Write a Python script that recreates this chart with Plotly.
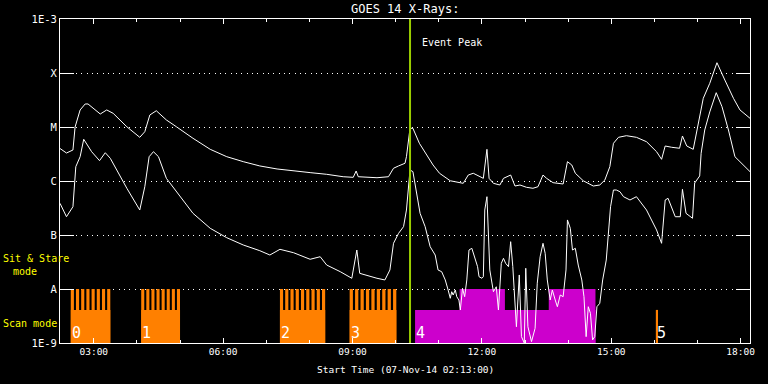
import pandas as pd
import plotly.graph_objects as go

DAY = "2014-11-07"

# ---- GOES 14 long channel (1-8 A), W/m^2 ----
long_times = ["02:13", "02:22", "02:31", "02:34", "02:41", "02:48", "02:52", "03:09", "03:18", "03:27",
              "03:46", "04:04", "04:11", "04:18", "04:27", "04:41", "04:55", "05:18", "05:42", "06:05",
              "06:28", "06:51", "07:15", "07:38", "08:01", "08:24", "08:47", "09:01", "09:05", "09:08",
              "09:34", "09:50", "09:57", "10:04", "10:13", "10:15", "10:20", "10:24", "10:33", "10:52",
              "11:01", "11:16", "11:34", "11:41", "11:48", "12:02", "12:07", "12:10", "12:16", "12:25",
              "12:30", "12:40", "12:46", "12:53", "13:02", "13:11", "13:18", "13:25", "13:30", "13:39",
              "13:53", "13:59", "14:05", "14:10", "14:21", "14:35", "14:44", "14:51", "14:58", "15:03",
              "15:10", "15:21", "15:35", "15:49", "16:03", "16:10", "16:15", "16:24", "16:35", "16:39",
              "16:45", "16:54", "16:59", "17:08", "17:17", "17:27", "17:38", "17:50", "17:59", "18:13"]
long_flux = [4.0e-6, 3.3e-6, 3.75e-6, 1.0e-5, 2.07e-5, 2.67e-5, 2.67e-5, 1.74e-5, 2.07e-5, 1.79e-5,
             1.01e-5, 6.44e-6, 8.18e-6, 1.67e-5, 2.0e-5, 1.35e-5, 1.01e-5, 6.18e-6, 3.86e-6, 2.82e-6,
             2.28e-6, 1.90e-6, 1.67e-6, 1.53e-6, 1.43e-6, 1.33e-6, 1.20e-6, 1.17e-6, 1.53e-6, 1.20e-6,
             1.15e-6, 1.20e-6, 1.72e-6, 1.90e-6, 2.13e-6, 2.82e-6, 9.46e-6, 9.46e-6, 4.99e-6, 1.98e-6,
             1.39e-6, 1.01e-6, 9.06e-7, 1.29e-6, 1.39e-6, 1.12e-6, 3.86e-6, 1.12e-6, 9.06e-7, 8.43e-7,
             1.12e-6, 1.29e-6, 8.08e-7, 8.43e-7, 7.64e-7, 7.33e-7, 7.84e-7, 1.29e-6, 1.12e-6, 9.31e-7,
             8.80e-7, 2.28e-6, 1.98e-6, 1.39e-6, 1.01e-6, 8.08e-7, 8.43e-7, 1.04e-6, 1.84e-6, 4.99e-6,
             6.44e-6, 6.90e-6, 6.44e-6, 5.34e-6, 3.49e-6, 2.52e-6, 4.45e-6, 4.21e-6, 4.04e-6, 6.81e-6,
             4.45e-6, 3.86e-6, 8.18e-6, 3.40e-5, 6.44e-5, 1.55e-4, 7.41e-5, 3.40e-5, 2.07e-5, 1.45e-5]

# ---- GOES 14 short channel (0.5-4 A), W/m^2 ----
short_times = ["02:13", "02:22", "02:31", "02:35", "02:41", "02:46", "02:57", "03:08", "03:16", "03:23",
               "03:46", "04:04", "04:11", "04:17", "04:23", "04:30", "04:41", "04:55", "05:18", "05:42",
               "06:05", "06:28", "06:51", "07:05", "07:19", "07:38", "08:01", "08:15", "08:24", "08:43",
               "08:59", "09:06", "09:10", "09:34", "09:45", "09:52", "09:57", "10:04", "10:11", "10:15",
               "10:20", "10:24", "10:34", "10:41", "10:48", "10:55", "10:59", "11:04", "11:09", "11:13",
               "11:16", "11:18", "11:20", "11:23", "11:25", "11:28", "11:30", "11:33", "11:36", "11:39",
               "11:42", "11:46", "11:50", "11:54", "11:56", "12:00", "12:02", "12:04", "12:07", "12:09",
               "12:11", "12:16", "12:20", "12:23", "12:25", "12:27", "12:30", "12:33", "12:37", "12:40",
               "12:43", "12:46", "12:48", "12:52", "12:55", "12:59", "13:01", "13:04", "13:09", "13:14",
               "13:17", "13:21", "13:25", "13:28", "13:31", "13:35", "13:38", "13:42", "13:45", "13:49",
               "13:53", "13:57", "13:59", "14:03", "14:06", "14:10", "14:14", "14:19", "14:22", "14:25",
               "14:28", "14:31", "14:34", "14:37", "14:40", "14:44", "14:48", "14:53", "14:56", "14:59",
               "15:03", "15:07", "15:12", "15:17", "15:26", "15:35", "15:49", "16:03", "16:10", "16:15",
               "16:19", "16:29", "16:36", "16:39", "16:44", "16:53", "16:56", "17:03", "17:05", "17:10",
               "17:17", "17:26", "17:34", "17:43", "17:52", "18:13"]
short_flux = [3.86e-7, 2.18e-7, 3.34e-7, 1.84e-6, 2.82e-6, 5.92e-6, 3.49e-6, 2.38e-6, 3.34e-6, 2.63e-6,
              7.33e-7, 2.90e-7, 7.84e-7, 2.82e-6, 3.49e-6, 2.82e-6, 1.12e-6, 6.34e-7, 2.52e-7, 1.33e-7,
              8.91e-8, 6.53e-8, 5.12e-8, 4.26e-8, 5.43e-8, 4.70e-8, 3.55e-8, 3.96e-8, 2.78e-8, 2.09e-8,
              1.58e-8, 5.27e-8, 1.95e-8, 1.58e-8, 1.47e-8, 2.25e-8, 7.02e-8, 1.07e-7, 1.43e-7, 2.90e-7,
              1.60e-6, 1.49e-6, 2.52e-7, 1.43e-7, 6.07e-8, 4.26e-8, 2.25e-8, 2.09e-8, 1.47e-8, 9.58e-9,
              6.73e-9, 8.91e-9, 7.74e-9, 9.58e-9, 7.20e-9, 6.25e-9, 4.08e-9, 1.03e-8, 7.20e-9, 1.47e-8,
              5.27e-8, 5.67e-8, 3.96e-8, 2.59e-8, 1.69e-8, 1.58e-8, 1.69e-8, 2.90e-7, 5.12e-7, 1.07e-7,
              2.25e-8, 8.91e-9, 1.10e-8, 4.08e-9, 9.58e-9, 2.99e-8, 3.70e-8, 2.99e-8, 2.59e-8, 7.52e-8,
              2.59e-8, 7.20e-9, 2.0e-9, 1.82e-8, 1.31e-9, 1.0e-9, 2.42e-8, 2.0e-9, 1.06e-9, 1.87e-9,
              1.28e-8, 3.96e-8, 7.02e-8, 4.58e-8, 1.47e-8, 6.25e-9, 9.58e-9, 6.25e-9, 4.70e-9, 7.74e-9,
              7.20e-9, 2.25e-8, 1.90e-7, 1.33e-7, 5.27e-8, 5.67e-8, 2.78e-8, 1.47e-8, 7.20e-9, 1.31e-9,
              4.70e-9, 3.55e-9, 1.14e-9, 1.31e-9, 4.70e-9, 5.43e-9, 1.47e-8, 3.44e-8, 1.07e-7, 3.34e-7,
              6.81e-7, 6.81e-7, 6.34e-7, 5.12e-7, 4.45e-7, 5.12e-7, 2.90e-7, 1.24e-7, 7.02e-8, 4.45e-7,
              4.78e-7, 2.18e-7, 2.18e-7, 7.02e-7, 2.52e-7, 2.04e-7, 9.18e-7, 1.24e-6, 3.26e-6, 8.80e-6,
              1.90e-5, 4.32e-5, 2.38e-5, 8.80e-6, 2.82e-6, 1.49e-6]

# ---- IRIS observing blocks ----
stare_start = ["02:28", "04:06", "07:19", "08:56"]      # orange comb groups
stare_end = ["03:23", "05:00", "08:22", "10:01"]
stare_teeth = [8, 8, 9, 9]
stare_labels = ["0", "1", "2", "3"]

raster_low_start = ["10:27"]                           # magenta blocks
raster_low_end = ["14:38"]
raster_high_start = ["11:29", "13:33"]
raster_high_end = ["12:32", "14:38"]
raster_label = "4"

short_obs_start = ["16:02"]                             # obs 5
short_obs_end = ["16:05"]
short_obs_label = "5"

event_peak = "10:20"

FLOOR = 1e-9
LOW_TOP = 4.1e-9
HIGH_TOP = 1e-8

y_tickvals = [1e-9, 1e-8, 1e-7, 1e-6, 1e-5, 1e-4, 1e-3]
y_ticktext = ["1E-9", "A", "B", "C", "M", "X", "1E-3"]

ORANGE = "#ff8000"
MAGENTA = "#cc00cc"
PEAK = "#9acd00"
YELLOW = "#ffff00"
FONT = "DejaVu Sans Mono"


def ts(hhmm):
    return pd.Timestamp(f"{DAY} {hhmm}")


def blocks(starts, ends, top):
    xs, ys = [], []
    for a, b in zip(starts, ends):
        xs += [ts(a), ts(a), ts(b), ts(b), ts(a), None]
        ys += [FLOOR, top, top, FLOOR, FLOOR, None]
    return xs, ys


def comb(starts, ends, counts, top, frac=0.6):
    xs, ys = [], []
    for a, b, n in zip(starts, ends, counts):
        t0, t1 = ts(a), ts(b)
        p = (t1 - t0) / (n - 1 + frac)
        for i in range(n):
            s = t0 + p * i
            e = s + p * frac
            xs += [s, s, e, e, s, None]
            ys += [FLOOR, top, top, FLOOR, FLOOR, None]
    return xs, ys


def fill_trace(xs, ys, color):
    return go.Scatter(x=xs, y=ys, mode="lines", fill="toself", fillcolor=color,
                      line=dict(width=0, color=color), hoverinfo="skip", showlegend=False)


fig = go.Figure()

bx, by = blocks(stare_start, stare_end, LOW_TOP)
fig.add_trace(fill_trace(bx, by, ORANGE))
cx, cy = comb(stare_start, stare_end, stare_teeth, HIGH_TOP)
fig.add_trace(fill_trace(cx, cy, ORANGE))
sx, sy = blocks(short_obs_start, short_obs_end, LOW_TOP)
fig.add_trace(fill_trace(sx, sy, ORANGE))
mx, my = blocks(raster_low_start, raster_low_end, LOW_TOP)
fig.add_trace(fill_trace(mx, my, MAGENTA))
hx, hy = blocks(raster_high_start, raster_high_end, HIGH_TOP)
fig.add_trace(fill_trace(hx, hy, MAGENTA))

fig.add_trace(go.Scatter(x=[ts(t) for t in long_times], y=long_flux, mode="lines",
                         line=dict(color="white", width=1), showlegend=False))
fig.add_trace(go.Scatter(x=[ts(t) for t in short_times], y=short_flux, mode="lines",
                         line=dict(color="white", width=1), showlegend=False))
fig.add_trace(go.Scatter(x=[ts(event_peak), ts(event_peak)], y=[1e-9, 1e-3], mode="lines",
                         line=dict(color=PEAK, width=2), showlegend=False))

annotations = []
for a, lab in zip(stare_start + raster_low_start + short_obs_start,
                  stare_labels + [raster_label, short_obs_label]):
    annotations.append(dict(x=ts(a), y=-8.82, xref="x", yref="y", text=lab, showarrow=False,
                            xanchor="left", yanchor="middle", xshift=-1,
                            font=dict(family=FONT, size=15, color="white")))
annotations.append(dict(x=ts(event_peak), y=-3.444, xref="x", yref="y", text="Event Peak",
                        showarrow=False, xanchor="left", yanchor="middle", xshift=10,
                        font=dict(family=FONT, size=10, color="white")))
annotations.append(dict(x=0.5, y=1, xref="paper", yref="paper", text="GOES 14 X-Rays:",
                        showarrow=False, xanchor="center", yanchor="middle", yshift=10,
                        font=dict(family=FONT, size=12, color="white")))
annotations.append(dict(x=0.5, y=0, xref="paper", yref="paper",
                        text="Start Time (07-Nov-14 02:13:00)",
                        showarrow=False, xanchor="center", yanchor="middle", yshift=-26,
                        font=dict(family=FONT, size=9.5, color="white")))
annotations.append(dict(x=-0.086, y=0.2593, xref="paper", yref="paper", text="Sit & Stare",
                        showarrow=False, xanchor="left", yanchor="middle",
                        font=dict(family=FONT, size=10, color=YELLOW)))
annotations.append(dict(x=-0.0705, y=0.2222, xref="paper", yref="paper", text="mode",
                        showarrow=False, xanchor="left", yanchor="middle",
                        font=dict(family=FONT, size=10, color=YELLOW)))
annotations.append(dict(x=-0.086, y=0.0596, xref="paper", yref="paper", text="Scan mode",
                        showarrow=False, xanchor="left", yanchor="middle",
                        font=dict(family=FONT, size=10, color=YELLOW)))

fig.update_layout(
    template="none",
    width=768, height=384,
    margin=dict(l=60, r=18, t=19, b=41, pad=0),
    paper_bgcolor="black", plot_bgcolor="black",
    showlegend=False,
    annotations=annotations,
    xaxis=dict(
        type="date", range=[ts("02:13"), ts("18:13")],
        tickmode="linear", tick0=f"{DAY} 00:00", dtick=3 * 3600 * 1000, tickformat="%H:%M",
        ticks="inside", ticklen=5, tickcolor="white", tickwidth=1,
        minor=dict(dtick=3600 * 1000, tick0=f"{DAY} 00:00", ticks="inside", ticklen=3,
                   tickcolor="white", tickwidth=1, showgrid=False),
        showline=True, linecolor="white", linewidth=1, mirror="ticks",
        showgrid=False, zeroline=False, automargin=False,
        tickfont=dict(family=FONT, size=9.5, color="white"),
    ),
    yaxis=dict(
        type="log", range=[-9, -3],
        tickmode="array", tickvals=y_tickvals, ticktext=y_ticktext,
        ticks="inside", ticklen=14, tickcolor="white", tickwidth=1,
        showline=True, linecolor="white", linewidth=1, mirror="ticks",
        showgrid=True, gridcolor="white", gridwidth=1, griddash="1px,4.33px",
        zeroline=False, automargin=False,
        tickfont=dict(family=FONT, size=10.5, color="white"),
    ),
)

fig.write_html("out.html", config={"displayModeBar": False},
               post_script="document.body.style.margin='0';document.body.style.background='black';")
